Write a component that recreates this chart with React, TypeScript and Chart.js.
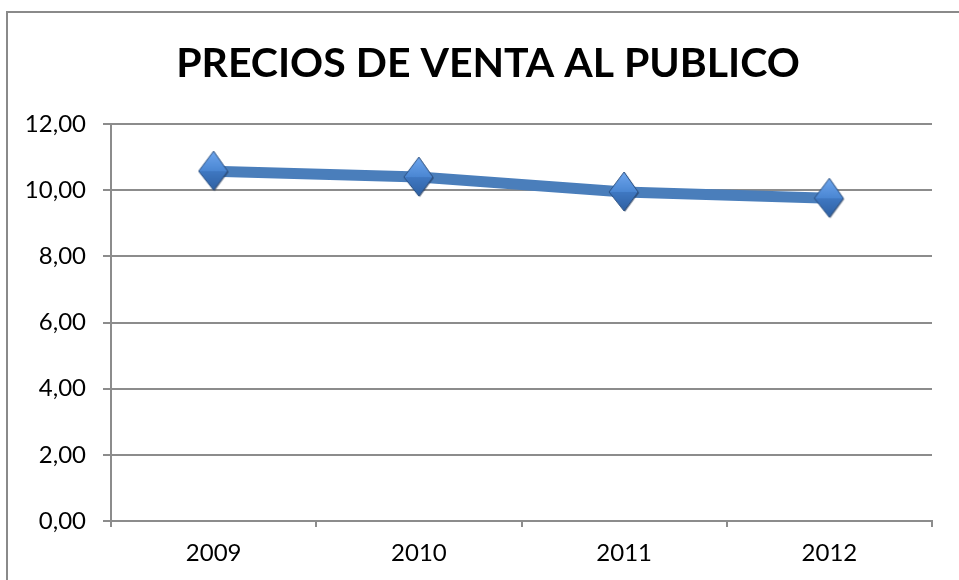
import React, { useEffect, useRef } from "react";
import { Chart, registerables } from "chart.js";

Chart.register(...registerables);

const title = "PRECIOS DE VENTA AL PUBLICO";
const years = ["2009", "2010", "2011", "2012"];
const prices = [10.58, 10.4, 9.95, 9.76];
const yTicks = [0, 2, 4, 6, 8, 10, 12];

function makeDiamond(): HTMLCanvasElement {
  const w = 32, h = 42;
  const c = document.createElement("canvas");
  c.width = w; c.height = h;
  const g = c.getContext("2d")!;
  const cx = w / 2, cy = h / 2;
  g.beginPath();
  g.moveTo(cx + 1, 2); g.lineTo(w - 1, cy + 1); g.lineTo(cx + 1, h - 1); g.lineTo(2, cy + 1); g.closePath();
  g.fillStyle = "rgba(30,50,80,0.55)"; g.fill();
  g.beginPath();
  g.moveTo(cx, 1); g.lineTo(w - 2, cy); g.lineTo(1, cy); g.closePath();
  const gt = g.createLinearGradient(0, 1, 0, cy);
  gt.addColorStop(0, "#6ea6ee"); gt.addColorStop(1, "#4a86d2");
  g.fillStyle = gt; g.fill();
  g.beginPath();
  g.moveTo(1, cy); g.lineTo(w - 2, cy); g.lineTo(cx, h - 2); g.closePath();
  const gb = g.createLinearGradient(0, cy, 0, h);
  gb.addColorStop(0, "#3f78c2"); gb.addColorStop(1, "#2d5e9f");
  g.fillStyle = gb; g.fill();
  g.beginPath();
  g.moveTo(cx, 1); g.lineTo(w - 2, cy); g.lineTo(cx, h - 2); g.lineTo(1, cy); g.closePath();
  g.strokeStyle = "#2a4f80"; g.lineWidth = 1; g.stroke();
  return c;
}

const shiftTitle = {
  id: "shiftTitle",
  afterLayout(chart: any) {
    const tb = chart.titleBlock;
    if (tb) {
      tb.left += 14;
      tb.right += 14;
    }
  },
};

export default function App() {
  const ref = useRef<HTMLCanvasElement>(null);
  useEffect(() => {
    if (!ref.current) return;
    const diamond = makeDiamond();
    const chart = new Chart(ref.current, {
      type: "line",
      data: {
        labels: years,
        datasets: [
          {
            data: prices,
            borderColor: "#4a7ebb",
            borderWidth: 11,
            pointStyle: diamond as any,
            pointRadius: 16,
            tension: 0,
          },
        ],
      },
      plugins: [shiftTitle],
      options: {
        animation: false,
        responsive: false,
        layout: { padding: { left: 0, right: 19, top: 0, bottom: 0 } },
        plugins: {
          legend: { display: false },
          tooltip: { enabled: false },
          title: {
            display: true,
            text: title,
            color: "#000",
            font: { family: "Lato, sans-serif", size: 41, weight: "bold" },
            padding: { top: 26, bottom: 36 },
          },
        },
        scales: {
          x: {
            offset: true,
            grid: { display: true, drawOnChartArea: false, tickLength: 6, color: "#8c8c8c", lineWidth: 2, offset: true },
            border: { display: true, color: "#8c8c8c", width: 2 },
            ticks: {
              color: "#000",
              padding: 12,
              font: { family: "Lato, sans-serif", size: 24 },
            },
            afterFit: (s: any) => {
              s.height = 59;
              s.paddingLeft = 0;
              s.paddingRight = 0;
            },
          },
          y: {
            min: 0,
            max: 12,
            afterBuildTicks: (s: any) => { s.ticks = yTicks.map((v) => ({ value: v })); },
            grid: { color: "#8c8c8c", lineWidth: 2, tickLength: 8 },
            border: { display: true, color: "#8c8c8c", width: 2 },
            ticks: {
              color: "#000",
              padding: 17,
              font: { family: "Lato, sans-serif", size: 24 },
              callback: (v: any) => Number(v).toFixed(2).replace(".", ","),
            },
            afterFit: (s: any) => { s.width = 103; },
          },
        },
      },
    });
    return () => chart.destroy();
  }, []);
  return (
    <div style={{ position: "fixed", left: 0, top: 0, width: 959, height: 580, background: "#fff" }}>
      <div
        style={{
          position: "absolute",
          left: 6,
          top: 11,
          width: 951,
          height: 567,
          borderLeft: "2px solid #8a8a8a",
          borderTop: "2px solid #8a8a8a",
          borderRight: "2px solid #e4e4e4",
          borderBottom: "2px solid #e4e4e4",
          background: "#fff",
        }}
      >
        <canvas ref={ref} width={951} height={567} style={{ display: "block" }} />
      </div>
    </div>
  );
}
